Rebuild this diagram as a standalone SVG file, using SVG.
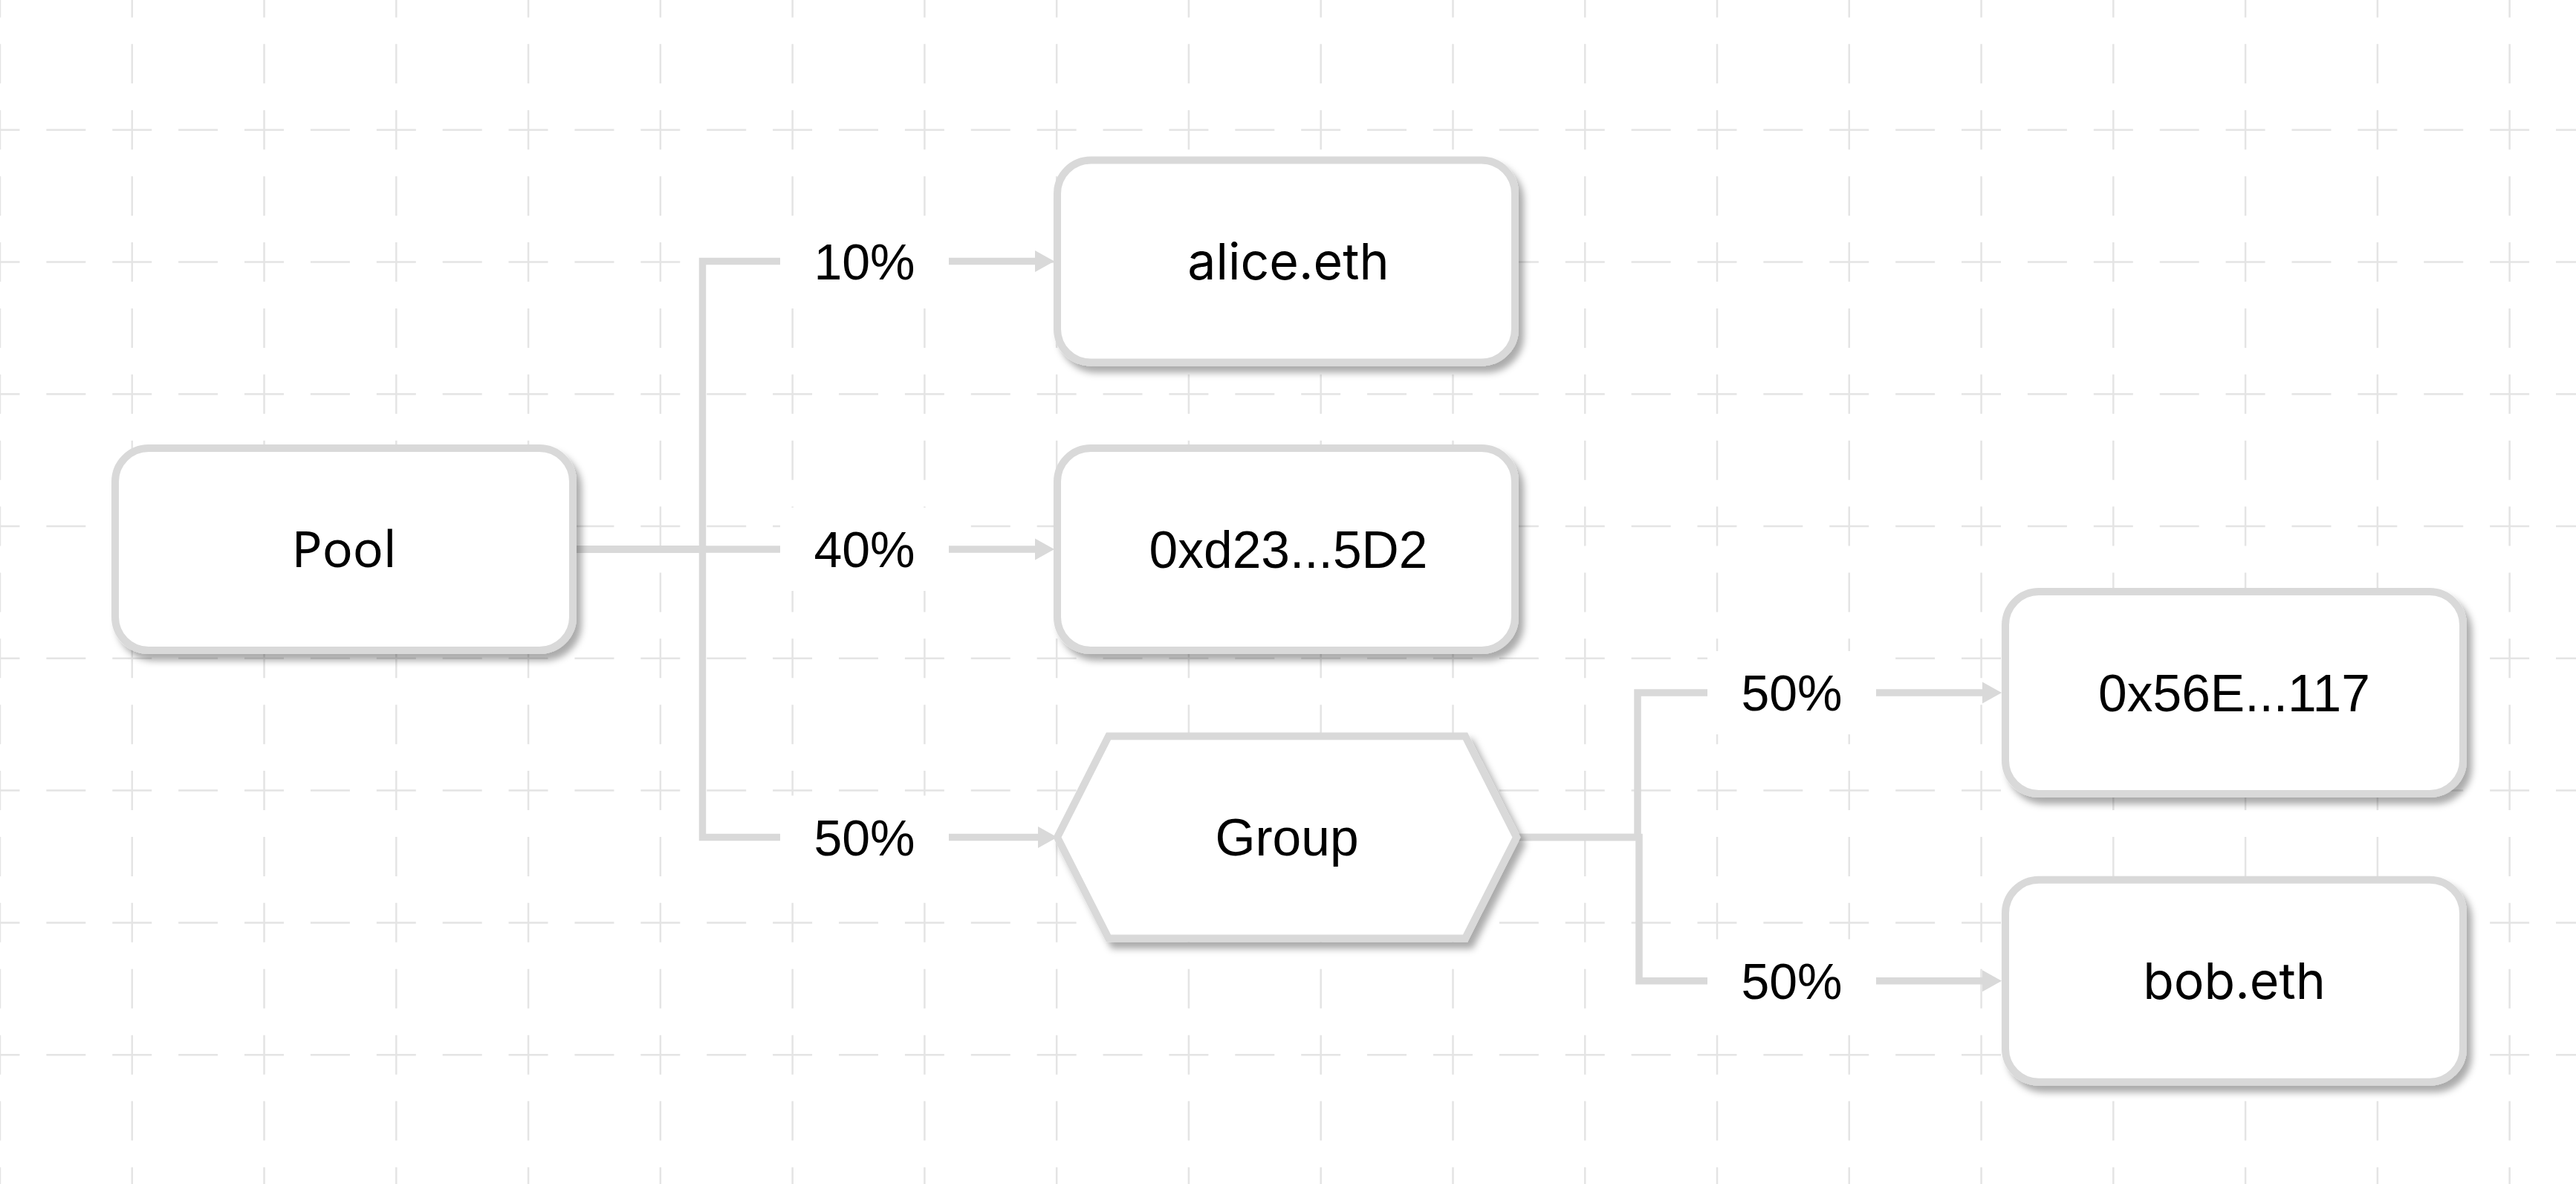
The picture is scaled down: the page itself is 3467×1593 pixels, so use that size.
<svg xmlns="http://www.w3.org/2000/svg" width="3467" height="1593" viewBox="0 0 3467 1593">
<style>
.gv{stroke:#e4e4e4;stroke-width:2.5;stroke-dasharray:53 35.885;fill:none}
.node{fill:#ffffff;stroke:#d9d9d9;stroke-width:10;filter:url(#shadow)}
.conn{fill:none;stroke:#d9d9d9;stroke-width:9.5;stroke-linejoin:miter;marker-end:url(#arrow)}
.lblbg{fill:#ffffff}
.t{font-size:68px;fill:#000;text-anchor:middle}
.big{font-size:69.5px}
.arial{font-family:'Liberation Sans',Arial,sans-serif}
.inter{font-family:Inter,'Liberation Sans',sans-serif}
.noto{font-family:'Noto Sans','Liberation Sans',sans-serif}
</style>
<defs>
<filter id="shadow" x="-10%" y="-15%" width="125%" height="140%">
<feDropShadow dx="7" dy="9" stdDeviation="5" flood-color="#000" flood-opacity="0.33"/>
</filter>
<marker id="arrow" markerUnits="userSpaceOnUse" markerWidth="30" markerHeight="32" viewBox="0 -16 30 32" refX="0" refY="0" orient="auto">
<path d="M0,-14.5 L26,0 L0,14.5 z" fill="#d9d9d9"/>
</marker>
</defs>
<rect x="0" y="0" width="3467" height="1593" fill="#ffffff"/>
<g id="grid">
<line class="gv" x1="0" y1="-118.4" x2="0" y2="1700"/>
<line class="gv" x1="177.77" y1="-118.4" x2="177.77" y2="1700"/>
<line class="gv" x1="355.54" y1="-118.4" x2="355.54" y2="1700"/>
<line class="gv" x1="533.31" y1="-118.4" x2="533.31" y2="1700"/>
<line class="gv" x1="711.08" y1="-118.4" x2="711.08" y2="1700"/>
<line class="gv" x1="888.85" y1="-118.4" x2="888.85" y2="1700"/>
<line class="gv" x1="1066.62" y1="-118.4" x2="1066.62" y2="1700"/>
<line class="gv" x1="1244.39" y1="-118.4" x2="1244.39" y2="1700"/>
<line class="gv" x1="1422.16" y1="-118.4" x2="1422.16" y2="1700"/>
<line class="gv" x1="1599.93" y1="-118.4" x2="1599.93" y2="1700"/>
<line class="gv" x1="1777.7" y1="-118.4" x2="1777.7" y2="1700"/>
<line class="gv" x1="1955.47" y1="-118.4" x2="1955.47" y2="1700"/>
<line class="gv" x1="2133.24" y1="-118.4" x2="2133.24" y2="1700"/>
<line class="gv" x1="2311.01" y1="-118.4" x2="2311.01" y2="1700"/>
<line class="gv" x1="2488.78" y1="-118.4" x2="2488.78" y2="1700"/>
<line class="gv" x1="2666.55" y1="-118.4" x2="2666.55" y2="1700"/>
<line class="gv" x1="2844.32" y1="-118.4" x2="2844.32" y2="1700"/>
<line class="gv" x1="3022.09" y1="-118.4" x2="3022.09" y2="1700"/>
<line class="gv" x1="3199.86" y1="-118.4" x2="3199.86" y2="1700"/>
<line class="gv" x1="3377.63" y1="-118.4" x2="3377.63" y2="1700"/>
<line class="gv" x1="-115.4" y1="-3" x2="3600" y2="-3"/>
<line class="gv" x1="-115.4" y1="174.77" x2="3600" y2="174.77"/>
<line class="gv" x1="-115.4" y1="352.54" x2="3600" y2="352.54"/>
<line class="gv" x1="-115.4" y1="530.31" x2="3600" y2="530.31"/>
<line class="gv" x1="-115.4" y1="708.08" x2="3600" y2="708.08"/>
<line class="gv" x1="-115.4" y1="885.85" x2="3600" y2="885.85"/>
<line class="gv" x1="-115.4" y1="1063.62" x2="3600" y2="1063.62"/>
<line class="gv" x1="-115.4" y1="1241.39" x2="3600" y2="1241.39"/>
<line class="gv" x1="-115.4" y1="1419.16" x2="3600" y2="1419.16"/>
</g>
<g id="connectors">
<path class="conn" d="M776,739 H945.5 V351.5 H1393"/>
<path class="conn" d="M776,739 H1393"/>
<path class="conn" d="M776,739 H945.5 V1126.5 H1397"/>
<path class="conn" d="M2041,1126.5 H2204 V932 H2668"/>
<path class="conn" d="M2041,1126.5 H2206 V1319.7 H2668"/>
</g>
<g id="labels">
<g id="label-10"><rect class="lblbg" x="1050" y="295.5" width="227" height="112"/><text class="t arial" x="1163.5" y="375.8">10%</text></g>
<g id="label-40"><rect class="lblbg" x="1050" y="683" width="227" height="112"/><text class="t arial" x="1163.5" y="763.3">40%</text></g>
<g id="label-50a"><rect class="lblbg" x="1050" y="1070.5" width="227" height="112"/><text class="t arial" x="1163.5" y="1150.8">50%</text></g>
<g id="label-50b"><rect class="lblbg" x="2298" y="876" width="227" height="112"/><text class="t arial" x="2411.5" y="956.3">50%</text></g>
<g id="label-50c"><rect class="lblbg" x="2298" y="1263.7" width="227" height="112"/><text class="t arial" x="2411.5" y="1344">50%</text></g>
</g>
<g id="node-pool"><rect class="node" x="155" y="603" width="616" height="272" rx="45" ry="45"/><text class="t noto" x="463" y="763">Pool</text></g>
<g id="node-alice"><rect class="node" x="1423" y="215.5" width="616" height="272" rx="45" ry="45"/><text class="t inter" x="1734" y="375.5">alice.eth</text></g>
<g id="node-0xd23"><rect class="node" x="1423" y="603" width="616" height="272" rx="45" ry="45"/><text class="t big arial" x="1734" y="763.8">0xd23...5D2</text></g>
<g id="node-group"><polygon class="node" points="1423,1126.5 1492,990.5 1972,990.5 2041,1126.5 1972,1262.5 1492,1262.5"/><text class="t big arial" x="1732" y="1151.3">Group</text></g>
<g id="node-0x56e"><rect class="node" x="2699" y="796" width="616" height="272" rx="45" ry="45"/><text class="t big arial" x="3007" y="956.8">0x56E...117</text></g>
<g id="node-bob"><rect class="node" x="2699" y="1183.7" width="616" height="272" rx="45" ry="45"/><text class="t inter" x="3007" y="1343.5">bob.eth</text></g>
</svg>
